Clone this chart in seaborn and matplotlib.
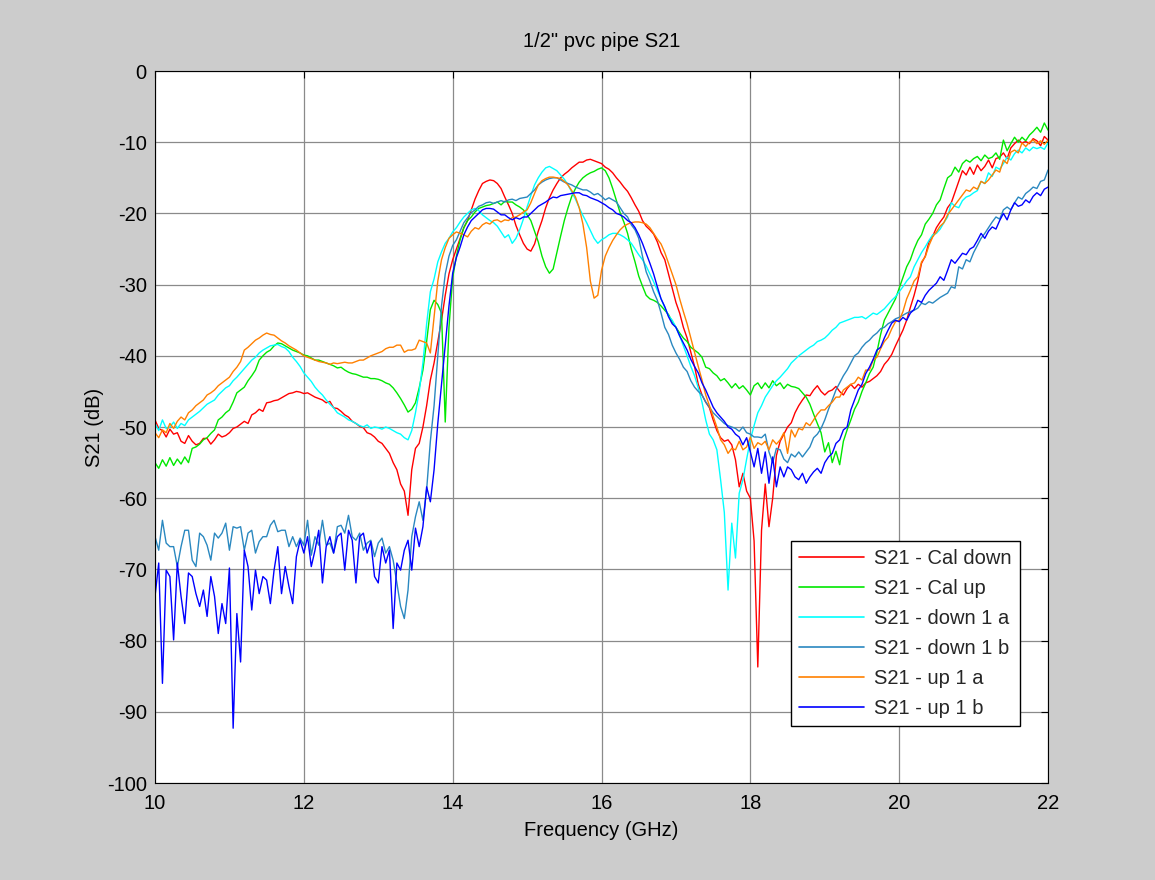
import numpy as np
import pandas as pd
import matplotlib
matplotlib.use("Agg")
import matplotlib.pyplot as plt
import seaborn as sns

# Frequency grid (GHz), 0.05 GHz step
freq = np.linspace(10, 22, 241)

cal_down = [
    -49.0, -50.2, -50.5, -51.4, -50.3, -51.0, -50.8, -52.0, -52.3, -51.2, -52.0, -52.5, -52.3, -51.6, -51.6, -52.4, -51.8, -51.0, -51.4, -51.2,
    -50.8, -50.2, -50.0, -49.6, -49.2, -49.5, -48.3, -48.0, -47.5, -47.8, -46.6, -46.5, -46.3, -46.2, -45.9, -45.6, -45.3, -45.2, -45.0, -45.1,
    -45.3, -45.2, -45.5, -45.8, -46.0, -46.2, -46.6, -46.4, -47.3, -47.4, -47.8, -48.3, -48.6, -49.2, -49.5, -49.9, -50.1, -50.8, -51.0, -51.4,
    -52.0, -52.3, -53.0, -53.7, -55.0, -56.0, -58.0, -59.0, -62.4, -56.0, -53.0, -52.3, -50.0, -47.0, -43.4, -41.0, -38.0, -35.0, -31.5, -28.5,
    -26.5, -25.0, -23.5, -22.0, -21.0, -19.5, -18.0, -16.8, -15.8, -15.5, -15.3, -15.4, -15.8, -16.5, -17.7, -18.8, -20.0, -21.7, -23.0, -24.2,
    -25.0, -25.3, -24.3, -22.5, -21.0, -19.2, -17.8, -16.7, -15.8, -15.0, -14.5, -14.1, -13.6, -13.2, -12.8, -12.8, -12.5, -12.4, -12.6, -12.8,
    -13.0, -13.5, -13.8, -14.3, -15.0, -15.6, -16.3, -16.9, -17.8, -18.8, -19.7, -21.0, -21.8, -22.3, -22.9, -24.0, -25.5, -26.5, -28.5, -30.5,
    -32.5, -34.0, -36.0, -37.5, -39.5, -41.5, -44.0, -45.5, -46.5, -47.3, -49.0, -50.5, -51.5, -52.0, -51.8, -52.5, -54.6, -58.4, -56.5, -59.0,
    -60.0, -66.0, -83.7, -64.5, -58.0, -64.0, -60.0, -54.0, -52.0, -51.0, -50.0, -49.4, -48.0, -47.0, -46.2, -45.5, -45.6, -44.8, -44.2, -45.0,
    -45.5, -45.0, -44.8, -44.3, -45.0, -45.5, -44.6, -44.0, -44.6, -44.0, -44.4, -43.8, -43.6, -43.2, -42.8, -42.2, -41.2, -40.6, -39.8, -38.6,
    -37.5, -36.4, -35.0, -33.2, -31.5, -29.5, -27.0, -26.0, -24.0, -23.2, -22.0, -21.2, -20.5, -19.2, -18.5, -17.0, -15.5, -14.0, -14.6, -13.5,
    -14.5, -13.2, -14.0, -13.4, -12.5, -13.6, -12.3, -12.1, -11.5, -12.3, -10.8, -10.2, -9.7, -10.1, -9.9, -10.2, -9.5, -9.8, -10.5, -9.2,
    -9.7,
]

cal_up = [
    -55.0, -55.8, -54.6, -55.5, -54.3, -55.4, -54.5, -55.2, -54.2, -55.0, -53.0, -52.8, -52.4, -51.8, -51.5, -50.9, -50.4, -49.0, -48.6, -48.0,
    -47.6, -46.5, -45.2, -44.8, -44.4, -43.5, -42.8, -42.0, -40.6, -40.0, -39.5, -39.2, -38.6, -38.2, -38.3, -38.6, -38.9, -39.2, -39.4, -39.6,
    -39.9, -40.0, -40.3, -40.6, -40.6, -40.8, -41.0, -41.2, -41.4, -41.7, -41.6, -42.0, -42.3, -42.5, -42.6, -42.8, -43.0, -43.0, -43.2, -43.2,
    -43.3, -43.5, -43.8, -44.0, -44.5, -45.2, -46.0, -46.9, -47.9, -47.5, -46.6, -44.5, -42.0, -38.0, -33.5, -32.2, -32.8, -34.0, -49.3, -36.0,
    -29.0, -26.0, -23.7, -22.0, -21.0, -20.5, -19.8, -19.3, -19.1, -18.9, -18.8, -18.6, -18.4, -18.8, -18.3, -18.4, -18.4, -18.8, -19.1, -19.5,
    -20.2, -21.0, -22.5, -24.0, -26.0, -27.5, -28.4, -27.8, -25.5, -23.2, -21.0, -19.2, -17.6, -16.5, -15.6, -15.0, -14.6, -14.3, -14.1, -13.8,
    -13.6, -14.0, -15.0, -16.5, -18.2, -19.9, -21.2, -22.8, -25.0, -26.8, -28.8, -30.2, -31.5, -32.0, -32.2, -32.5, -33.0, -33.6, -34.2, -35.2,
    -36.0, -36.8, -37.5, -38.0, -38.8, -39.2, -39.6, -40.2, -41.6, -41.8, -42.4, -42.8, -43.5, -43.2, -43.8, -44.5, -43.9, -44.6, -44.2, -44.8,
    -45.5, -44.2, -43.8, -44.6, -43.8, -44.5, -43.5, -44.2, -43.8, -44.6, -44.0, -44.3, -44.4, -44.6, -45.2, -45.8, -46.8, -48.2, -49.5, -50.8,
    -53.5, -52.2, -55.0, -53.4, -55.3, -52.0, -50.4, -49.0, -47.5, -46.5, -45.0, -43.8, -42.5, -41.6, -39.5, -37.0, -35.0, -34.0, -33.0, -32.0,
    -30.5, -29.0, -27.5, -26.5, -25.0, -23.8, -23.0, -21.5, -20.8, -20.0, -18.8, -18.1, -16.5, -15.0, -14.6, -13.5, -14.2, -13.0, -12.5, -12.8,
    -12.3, -12.0, -12.6, -11.8, -12.3, -12.1, -11.5, -12.4, -9.7, -11.2, -10.2, -9.3, -10.0, -9.3, -9.8, -9.0, -8.5, -7.9, -8.6, -7.3,
    -8.3,
]

down_1a = [
    -49.5, -50.5, -49.0, -50.2, -50.0, -49.3, -50.2, -49.5, -49.8, -49.0, -48.6, -48.2, -47.8, -47.3, -46.8, -46.5, -46.2, -45.5, -45.0, -44.5,
    -44.2, -43.5, -43.0, -42.4, -41.8, -41.2, -40.6, -40.2, -39.6, -39.2, -38.9, -38.6, -38.5, -38.4, -38.7, -38.9, -39.4, -40.2, -40.8, -41.5,
    -42.4, -43.0, -43.6, -44.4, -45.0, -45.5, -46.2, -46.8, -47.3, -48.0, -48.3, -48.6, -49.0, -49.2, -49.5, -49.8, -50.0, -49.7, -50.2, -50.0,
    -50.1, -50.3, -50.0, -50.2, -50.5, -50.8, -51.0, -51.5, -51.8, -50.5, -48.0, -45.0, -41.0, -35.5, -31.0, -29.2, -26.8, -25.4, -24.2, -23.5,
    -22.6, -22.0, -21.2, -20.5, -20.0, -19.5, -19.3, -19.6, -20.2, -20.6, -21.0, -21.3, -21.8, -22.6, -23.4, -23.0, -24.2, -23.5, -22.3, -20.8,
    -19.1, -17.5, -16.0, -15.0, -14.2, -13.6, -13.4, -13.7, -14.0, -14.6, -15.2, -16.0, -17.0, -18.0, -19.2, -20.3, -21.3, -22.4, -23.5, -24.2,
    -23.7, -23.4, -23.0, -22.8, -22.8, -23.0, -23.3, -23.7, -24.2, -25.0, -25.8, -26.5, -27.4, -28.5, -29.6, -30.8, -32.0, -33.2, -34.4, -35.0,
    -36.0, -37.2, -38.6, -40.0, -41.5, -42.8, -44.5, -46.5, -49.0, -51.0, -51.8, -53.2, -57.4, -62.0, -72.9, -63.5, -68.4, -59.3, -57.4, -54.5,
    -51.8, -49.8, -48.0, -47.0, -45.8, -45.0, -44.2, -43.5, -43.0, -42.4, -41.8, -41.0, -40.5, -40.0, -39.6, -39.2, -38.8, -38.5, -38.0, -37.8,
    -37.5, -37.0, -36.4, -36.0, -35.4, -35.2, -35.0, -34.8, -34.6, -34.6, -34.5, -34.8, -34.4, -34.0, -34.2, -33.8, -33.4, -32.8, -32.2, -31.7,
    -31.0, -30.3, -29.5, -28.9, -27.5, -26.5, -25.5, -24.7, -23.8, -23.0, -22.8, -22.2, -21.3, -20.5, -18.5, -19.0, -19.2, -18.2, -17.7, -17.5,
    -17.1, -16.8, -15.5, -15.8, -14.3, -14.8, -13.5, -13.8, -13.0, -12.1, -12.5, -11.6, -11.1, -11.5, -10.8, -11.2, -10.7, -10.9, -10.7, -11.0,
    -10.1,
]

down_1b = [
    -65.4, -67.3, -63.1, -66.3, -66.8, -66.8, -69.6, -66.8, -64.5, -64.5, -68.7, -69.6, -64.9, -65.4, -66.6, -68.7, -64.9, -65.6, -64.9, -63.5,
    -67.3, -64.0, -64.2, -64.0, -67.3, -64.9, -64.5, -67.7, -66.1, -65.4, -65.4, -63.8, -63.1, -64.7, -64.5, -64.5, -66.8, -65.4, -66.8, -65.6,
    -66.6, -63.1, -68.0, -65.4, -66.6, -63.1, -66.6, -66.3, -67.7, -64.0, -63.8, -64.9, -62.4, -65.4, -65.9, -64.9, -67.3, -66.3, -65.9, -68.2,
    -66.3, -65.6, -67.7, -66.8, -68.7, -71.9, -75.2, -76.9, -72.9, -65.4, -62.6, -60.5, -63.1, -58.8, -52.0, -47.0, -40.0, -33.0, -28.5, -26.0,
    -24.5, -23.7, -22.5, -21.3, -20.6, -19.9, -19.5, -19.0, -18.8, -18.5, -18.4, -18.6, -18.4, -18.2, -18.4, -18.1, -18.0, -18.2, -17.9, -17.8,
    -17.7, -17.2, -16.7, -16.0, -15.6, -15.3, -15.1, -15.0, -15.0, -15.3, -15.6, -15.8, -16.0, -16.3, -16.5, -16.7, -16.7, -17.0, -17.4, -17.2,
    -17.6, -18.1, -17.8, -18.1, -18.4, -19.2, -20.0, -20.5, -21.6, -22.3, -23.5, -26.0, -28.2, -29.5, -31.0, -32.2, -34.0, -36.0, -37.0, -38.5,
    -39.6, -40.5, -41.6, -42.2, -43.5, -44.4, -45.0, -45.5, -46.5, -47.2, -48.0, -48.5, -49.0, -49.5, -49.8, -50.0, -50.2, -50.6, -50.0, -50.8,
    -51.0, -51.4, -51.4, -51.5, -51.0, -53.5, -55.0, -53.0, -53.2, -54.5, -55.0, -53.8, -54.2, -53.5, -54.2, -53.5, -52.8, -51.5, -51.0, -50.2,
    -49.0, -47.5, -46.2, -44.8, -43.8, -42.8, -42.0, -41.0, -40.0, -39.6, -38.8, -38.2, -37.8, -37.2, -36.8, -36.2, -36.0, -35.5, -35.2, -34.8,
    -34.6, -34.3, -34.0, -33.8, -33.6, -33.3, -32.6, -32.8, -32.4, -32.6, -32.2, -31.8, -31.5, -31.2, -30.3, -30.5, -27.5, -27.8, -26.5, -26.8,
    -25.5, -24.5, -23.5, -22.8, -22.0, -21.2, -20.5, -20.8, -19.5, -19.1, -19.5, -18.5, -17.7, -18.0, -17.2, -16.8, -16.3, -16.5, -15.5, -15.3,
    -13.9,
]

up_1a = [
    -50.8, -51.5, -50.4, -50.8, -49.5, -50.2, -49.2, -48.6, -49.0, -48.0, -47.6, -47.0, -46.6, -46.2, -45.5, -45.2, -44.8, -44.2, -43.8, -43.4,
    -43.0, -42.2, -41.6, -40.8, -39.2, -38.8, -38.3, -37.8, -37.5, -37.1, -36.8, -37.0, -37.1, -37.5, -37.9, -38.2, -38.6, -38.9, -39.2, -39.6,
    -40.0, -40.2, -40.4, -40.6, -40.8, -40.9, -41.0, -41.2, -41.0, -41.1, -41.0, -40.9, -41.0, -41.0, -40.8, -40.6, -40.6, -40.3, -40.0, -39.8,
    -39.6, -39.4, -39.0, -38.8, -38.8, -38.5, -38.5, -39.5, -39.2, -39.2, -39.0, -37.8, -38.0, -38.2, -39.6, -34.5, -29.5, -26.5, -24.8, -23.5,
    -23.0, -22.6, -22.8, -23.0, -23.3, -22.5, -22.0, -22.2, -21.6, -21.3, -21.5, -21.0, -20.9, -21.2, -20.9, -21.0, -20.6, -20.5, -20.2, -19.8,
    -19.5, -18.5, -17.2, -16.0, -15.4, -15.1, -14.9, -14.9, -15.0, -15.1, -15.5, -16.0, -16.8, -17.7, -19.2, -21.5, -24.8, -29.5, -31.9, -31.5,
    -28.0, -26.0, -24.8, -23.8, -23.0, -22.3, -21.8, -21.5, -21.3, -21.2, -21.2, -21.3, -21.5, -22.0, -22.8, -23.6, -24.3, -25.5, -27.0, -28.5,
    -30.0, -32.0, -33.8, -35.5, -37.5, -39.5, -41.5, -43.4, -45.5, -47.0, -48.5, -50.0, -51.8, -52.5, -53.7, -53.0, -53.2, -52.0, -53.2, -52.8,
    -51.4, -53.0, -52.2, -52.5, -52.0, -53.2, -51.8, -52.4, -51.8, -50.8, -53.7, -50.4, -51.4, -50.2, -50.4, -49.4, -49.8, -49.0, -48.2, -47.6,
    -47.6, -47.0, -46.5, -45.8, -45.8, -44.8, -44.4, -44.0, -43.8, -43.0, -43.4, -42.0, -42.0, -40.6, -40.2, -39.0, -38.0, -37.4, -36.2, -35.2,
    -35.0, -33.8, -32.0, -30.8, -29.5, -28.9, -26.8, -26.1, -24.5, -23.3, -22.6, -21.8, -21.3, -20.2, -19.5, -18.8, -18.1, -17.4, -16.7, -16.9,
    -16.3, -16.6, -15.5, -15.8, -15.3, -14.6, -13.9, -14.2, -12.5, -13.0, -11.4, -11.1, -11.5, -10.1, -10.6, -10.0, -9.7, -10.2, -9.8, -10.3,
    -9.7,
]

up_1b = [
    -73.8, -69.1, -86.0, -70.1, -71.0, -79.9, -69.1, -73.8, -77.6, -70.5, -71.0, -73.4, -75.2, -72.9, -76.6, -71.0, -73.8, -79.0, -74.8, -77.6,
    -69.8, -92.3, -76.2, -83.0, -67.3, -69.6, -75.7, -70.1, -73.4, -71.0, -71.5, -74.8, -70.1, -66.8, -73.4, -69.6, -72.4, -74.8, -68.2, -65.9,
    -67.7, -65.4, -69.6, -67.3, -64.5, -71.9, -66.8, -65.4, -67.7, -65.4, -64.9, -70.1, -64.5, -65.9, -71.9, -65.4, -64.9, -67.7, -66.1, -71.0,
    -71.9, -66.8, -69.1, -67.3, -78.3, -69.1, -70.1, -67.3, -65.9, -70.1, -64.2, -66.8, -64.0, -58.4, -60.5, -56.0, -49.5, -44.0, -38.5, -33.0,
    -28.4, -26.2, -24.7, -23.0, -21.9, -21.0, -20.5, -20.0, -19.5, -19.3, -19.3, -19.4, -19.8, -20.2, -20.2, -20.6, -20.9, -20.6, -20.8, -20.5,
    -20.5, -20.0, -19.5, -19.0, -18.7, -18.4, -18.0, -17.7, -17.8, -17.5, -17.4, -17.3, -17.2, -17.1, -17.1, -17.4, -17.5, -17.8, -18.0, -18.2,
    -18.5, -18.8, -19.2, -19.5, -20.0, -20.2, -20.5, -21.0, -21.3, -22.0, -23.0, -24.2, -25.6, -27.0, -28.5, -30.3, -32.0, -33.1, -34.5, -35.5,
    -36.0, -37.2, -38.2, -39.2, -40.5, -41.5, -42.4, -43.8, -44.8, -46.0, -47.2, -48.0, -48.6, -49.2, -50.0, -50.3, -51.0, -51.4, -52.5, -51.5,
    -53.5, -55.6, -53.0, -56.5, -53.5, -57.9, -54.2, -58.4, -55.6, -57.0, -55.6, -56.0, -57.0, -57.4, -56.5, -57.9, -57.0, -56.3, -55.8, -56.5,
    -55.0, -54.2, -53.7, -52.3, -51.8, -50.4, -50.0, -47.6, -46.2, -44.8, -44.0, -42.5, -41.6, -40.5, -39.2, -38.8, -37.5, -36.4, -35.4, -35.0,
    -35.2, -34.6, -35.0, -34.0, -33.5, -32.2, -32.5, -31.5, -30.8, -30.3, -29.8, -28.9, -29.4, -28.0, -26.5, -27.0, -26.3, -25.6, -25.8, -25.0,
    -24.7, -23.8, -22.8, -23.5, -22.5, -21.9, -22.2, -21.0, -20.0, -20.9, -19.5, -18.5, -19.0, -18.8, -18.1, -18.5, -17.6, -17.1, -17.5, -16.6,
    -16.3,
]

series_names = ["S21 - Cal down", "S21 - Cal up", "S21 - down 1 a",
                "S21 - down 1 b", "S21 - up 1 a", "S21 - up 1 b"]
series_values = [cal_down, cal_up, down_1a, down_1b, up_1a, up_1b]
series_colors = ["#ff0000", "#00e800", "#00ffff", "#2a88c0", "#ff8000", "#0000ff"]

x_ticks = [10, 12, 14, 16, 18, 20, 22]
y_ticks = [-100, -90, -80, -70, -60, -50, -40, -30, -20, -10, 0]

df = pd.concat(
    [pd.DataFrame({"freq": freq, "s21": vals, "series": name})
     for name, vals in zip(series_names, series_values)],
    ignore_index=True,
)

sns.set_theme(style="white")
plt.rcParams["font.family"] = ["Liberation Sans", "DejaVu Sans"]
plt.rcParams["axes.unicode_minus"] = False

FS = 14.5

fig = plt.figure(figsize=(11.55, 8.8), dpi=100, facecolor="#cccccc")
ax = fig.add_axes([0.1342, 0.1102, 0.7732, 0.8091])
ax.set_facecolor("white")

sns.lineplot(data=df, x="freq", y="s21", hue="series", hue_order=series_names,
             palette=dict(zip(series_names, series_colors)), estimator=None,
             sort=False, linewidth=1.0, ax=ax)

ax.set_xlim(10, 22)
ax.set_ylim(-100, 0)
ax.set_xticks(x_ticks)
ax.set_yticks(y_ticks)
ax.set_axisbelow(True)
ax.grid(True, color="#8a8a8a", linestyle="-", linewidth=0.9)
ax.tick_params(direction="in", top=True, right=True, length=5, width=0.8,
               labelsize=FS, colors="black")
ax.tick_params(axis="x", pad=8)
ax.tick_params(axis="y", pad=6)
for s in ax.spines.values():
    s.set_visible(True)
    s.set_color("black")
    s.set_linewidth(0.8)

ax.set_title('1/2" pvc pipe S21', fontsize=FS, pad=17, color="black")
ax.set_xlabel("Frequency (GHz)", fontsize=FS, labelpad=6, color="black")
ax.set_ylabel("S21 (dB)", fontsize=FS, labelpad=2, color="black")

leg = ax.legend(loc="lower right", bbox_to_anchor=(0.9686, 0.080), fontsize=FS,
                frameon=True, fancybox=False, edgecolor="black", facecolor="white",
                framealpha=1, handlelength=3.25, handletextpad=0.5,
                labelspacing=0.55, borderpad=0.4, borderaxespad=0)
leg.get_frame().set_linewidth(1.0)
for line in leg.get_lines():
    line.set_linewidth(1.2)

fig.savefig("out.png", dpi=100, facecolor="#cccccc")
